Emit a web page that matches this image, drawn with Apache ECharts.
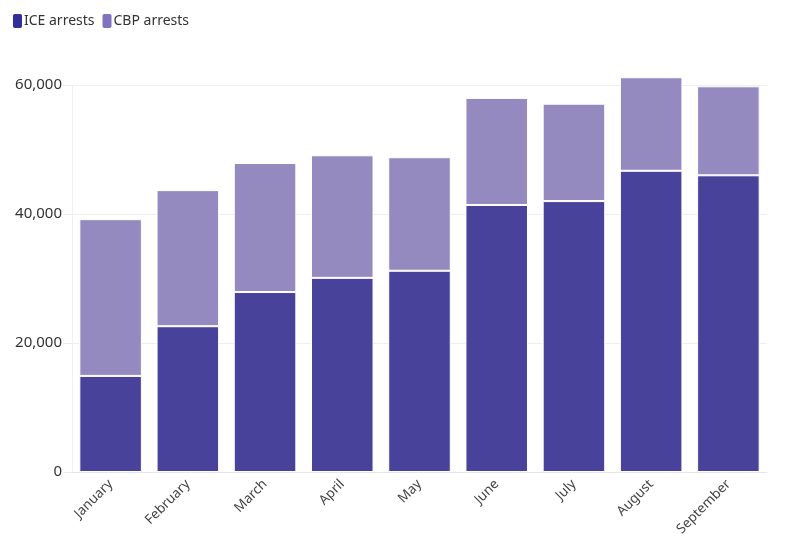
<!DOCTYPE html>
<html>
<head>
<meta charset="utf-8">
<script src="https://cdn.jsdelivr.net/npm/echarts@6/dist/echarts.min.js"></script>
<style>html,body{margin:0;padding:0;background:#fff}#c{width:794px;height:556px}</style>
</head>
<body>
<div id="c"></div>
<script>
const categories = ['January','February','March','April','May','June','July','August','September'];
const iceArrests = [14900, 22600, 27900, 30100, 31200, 41400, 42000, 46700, 46000];
const cbpArrests = [24300, 21100, 20000, 19000, 17600, 16600, 15100, 14500, 13800];
const yTicks = [0, 20000, 40000, 60000];

const chart = echarts.init(document.getElementById('c'));
const font = 'Noto Sans';
chart.setOption({
  animation: false,
  textStyle: {fontFamily: font},
  legend: {
    left: 6, top: 7, itemGap: 6, itemWidth: 11, itemHeight: 16,
    icon: 'roundRect',
    textStyle: {fontSize: 14, color: '#333', fontFamily: font, padding: [0,0,0,-4]},
    data: [
      {name: 'ICE arrests', itemStyle: {color: '#332f98', opacity: 1}},
      {name: 'CBP arrests', itemStyle: {color: '#7e73bf', opacity: 1}}
    ]
  },
  grid: {left: 72, right: 27, top: 85, bottom: 84},
  xAxis: {
    type: 'category', data: categories,
    axisLine: {lineStyle: {color: '#e6e6e6'}},
    axisTick: {alignWithLabel: true, length: 6, lineStyle: {color: '#e6e6e6'}},
    axisLabel: {rotate: 45, fontSize: 13.5, color: '#444', margin: 10, fontFamily: font}
  },
  yAxis: {
    type: 'value', min: yTicks[0], max: yTicks[yTicks.length-1], interval: 20000,
    axisLine: {show: true, lineStyle: {color: '#f0f0f0'}},
    axisTick: {show: true, length: 9, lineStyle: {color: '#ececec'}},
    splitLine: {lineStyle: {color: '#efefef'}},
    axisLabel: {fontSize: 15, color: '#333', margin: 10, fontFamily: font,
      formatter: v => v.toLocaleString('en-US')}
  },
  series: [
    {name: 'ICE arrests', type: 'bar', stack: 'a', data: iceArrests, clip: false,
     barCategoryGap: '19%',
     itemStyle: {color: '#49429a', borderColor: '#fff', borderWidth: 1}},
    {name: 'CBP arrests', type: 'bar', stack: 'a', data: cbpArrests, clip: false,
     itemStyle: {color: '#958ac0', borderColor: '#fff', borderWidth: 1}}
  ]
});
</script>
</body>
</html>
